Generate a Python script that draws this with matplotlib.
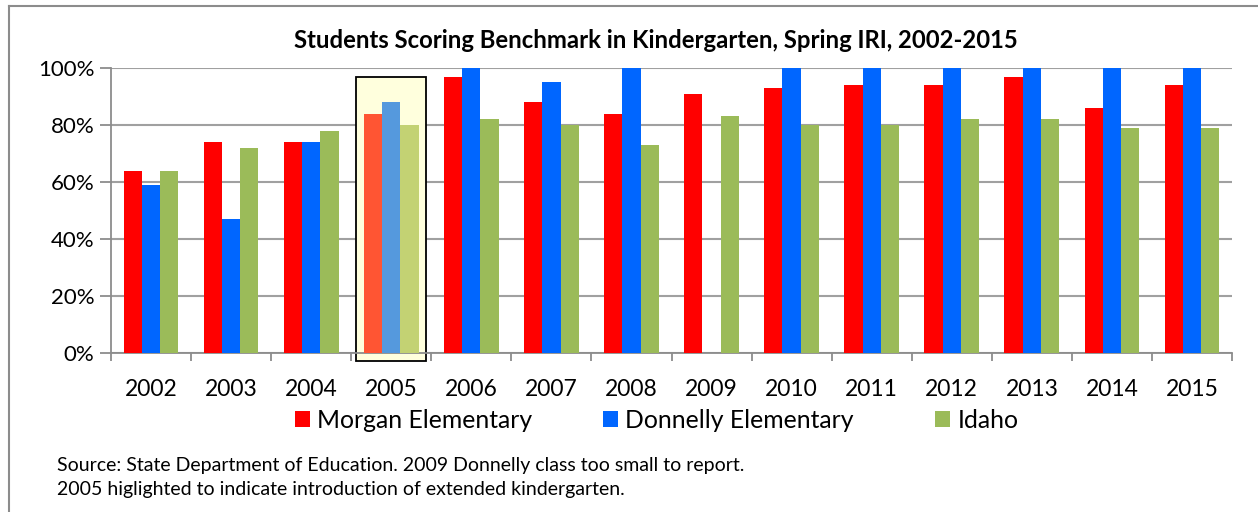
import matplotlib
matplotlib.use("Agg")
import matplotlib.pyplot as plt
import numpy as np
from matplotlib.patches import Rectangle, Patch
from matplotlib.lines import Line2D

years = ["2002", "2003", "2004", "2005", "2006", "2007", "2008", "2009",
         "2010", "2011", "2012", "2013", "2014", "2015"]
morgan = [64, 74, 74, 84, 97, 88, 84, 91, 93, 94, 94, 97, 86, 94]
donnelly = [59, 47, 74, 88, 100, 95, 100, np.nan, 100, 100, 100, 100, 100, 100]
idaho = [64, 72, 78, 80, 82, 80, 73, 83, 80, 80, 82, 82, 79, 79]
series_names = ["Morgan Elementary", "Donnelly Elementary", "Idaho"]
colors = ["#FF0000", "#0066FF", "#9BBB59"]
highlight_colors = ["#FF5533", "#5599DD", "#C3D273"]
highlight_year = "2005"

plt.rcParams['font.family'] = ['Lato', 'DejaVu Sans']

W, H = 1258, 512
fig = plt.figure(figsize=(W / 100, H / 100), dpi=100)
ax = fig.add_axes([111 / W, 1 - 353 / H, (1232 - 111) / W, (353 - 68) / H])

x = np.arange(len(years))
bw = 0.228
hi = years.index(highlight_year)

# highlight box
ax.add_patch(Rectangle((hi - 0.44, -2.8), 0.88, 99.6, facecolor="#FFFFDD",
                       edgecolor="black", linewidth=1.3, zorder=1.5, clip_on=False))

for k, vals in enumerate([morgan, donnelly, idaho]):
    cols = [highlight_colors[k] if i == hi else colors[k] for i in range(len(years))]
    ax.bar(x + (k - 1) * bw, vals, width=bw, color=cols, zorder=3)

ax.set_xlim(-0.5, len(years) - 0.5)
ax.set_ylim(0, 100)
ax.set_yticks(np.arange(0, 101, 20))
ax.set_yticklabels([f"{v}%" for v in range(0, 101, 20)])
ax.set_xticks(x)
ax.set_xticklabels(years)
ax.set_xticks(np.arange(-0.5, len(years), 1), minor=True)
ax.tick_params(axis="x", which="major", length=0, pad=19, labelsize=16.5)
ax.tick_params(axis="x", which="minor", length=6, width=1.3, color="#8C8C8C")
ax.tick_params(axis="y", length=8, width=1.3, color="#8C8C8C", labelsize=16, pad=4)
ax.grid(axis="y", color="#A0A0A0", linewidth=1.5, zorder=0)
ax.set_axisbelow(True)
for s in ["top", "right"]:
    ax.spines[s].set_visible(False)
for s in ["left", "bottom"]:
    ax.spines[s].set_color("#8C8C8C")
    ax.spines[s].set_linewidth(1.3)

fig.text(656 / W, 1 - 41 / H, "Students Scoring Benchmark in Kindergarten, Spring IRI, 2002-2015",
         ha="center", va="center", fontsize=17.2, fontweight="bold")

legend_x = [295, 603, 935]
for name, c, lx in zip(series_names, colors, legend_x):
    leg = fig.legend([Patch(facecolor=c, edgecolor="none")], [name], loc="center left",
                     bbox_to_anchor=(lx / W, 1 - 420 / H), frameon=False, fontsize=17.8,
                     handlelength=0.6, handleheight=0.6, handletextpad=0.3,
                     borderpad=0, borderaxespad=0)

fig.text(57 / W, 1 - 466 / H, "Source: State Department of Education. 2009 Donnelly class too small to report.",
         ha="left", va="center", fontsize=14)
fig.text(57 / W, 1 - 490 / H, "2005 higlighted to indicate introduction of extended kindergarten.",
         ha="left", va="center", fontsize=14)

# outer border (top and left only, as in the reference crop)
fig.add_artist(Line2D([8.5 / W, 8.5 / W], [0, 1 - 5.5 / H], transform=fig.transFigure,
                      color="#8C8C8C", linewidth=1.5))
fig.add_artist(Line2D([8.5 / W, 1], [1 - 5.5 / H, 1 - 5.5 / H], transform=fig.transFigure,
                      color="#8C8C8C", linewidth=1.5))

fig.savefig("out.png", dpi=100)
